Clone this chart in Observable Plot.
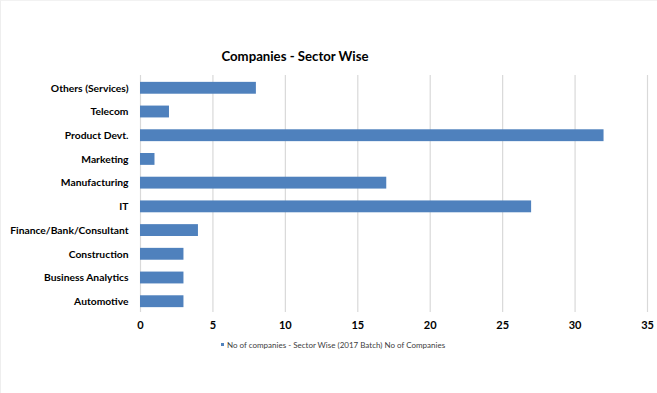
<!DOCTYPE html>
<html>
<head>
<meta charset="utf-8">
<script src="https://cdn.jsdelivr.net/npm/d3@7"></script>
<script src="https://cdn.jsdelivr.net/npm/@observablehq/plot@0.6"></script>
<style>
  html, body { margin: 0; padding: 0; background: #fff; }
  #wrap { position: relative; width: 657px; height: 393px; overflow: hidden; font-family: Lato, "Open Sans", sans-serif; }
  #frame { position: absolute; left: 0; top: 0; width: 657px; height: 393px; border-left: 1px solid #eee; border-top: 1px solid #f2f2f2; box-sizing: border-box; pointer-events: none; }
  #title { position: absolute; left: 0; width: 590px; top: 48px; text-align: center; font-weight: bold; font-size: 13.2px; color: #000; }
  #legend { position: absolute; left: 221px; top: 340px; font-size: 8px; color: #404040; white-space: nowrap; }
  #legend .sw { display: inline-block; width: 3px; height: 3px; background: #4F81BD; margin-right: 3px; vertical-align: middle; position: relative; top: -1px; }
  #chart { position: absolute; left: 0; top: 0; }
</style>
</head>
<body>
<div id="wrap">
  <div id="chart"></div>
  <div id="frame"></div>
  <div id="title">Companies - Sector Wise</div>
  <div id="legend"><span class="sw"></span>No of companies - Sector Wise (2017 Batch) No of Companies</div>
</div>
<script>
const categories = ["Others (Services)", "Telecom", "Product Devt.", "Marketing", "Manufacturing", "IT", "Finance/Bank/Consultant", "Construction", "Business Analytics", "Automotive"];
const companies = [8, 2, 32, 1, 17, 27, 4, 3, 3, 3];
const xTicks = [0, 5, 10, 15, 20, 25, 30, 35];

const data = categories.map((c, i) => ({sector: c, value: companies[i]}));

const chart = Plot.plot({
  width: 657,
  height: 393,
  marginTop: 75,
  marginBottom: 81,
  marginLeft: 140,
  marginRight: 10,
  style: {fontFamily: "Lato, 'Open Sans', sans-serif", background: "transparent"},
  x: {domain: [0, 35], ticks: xTicks, label: null},
  y: {domain: categories, padding: 0.5, range: [70, 319], round: false, label: null},
  marks: [
    Plot.ruleX(xTicks, {stroke: "#d9d9d9", strokeWidth: 1.2}),
    Plot.barX(data, {y: "sector", x: "value", fill: "#4F81BD"}),
    Plot.axisX({ticks: xTicks, tickSize: 0, tickPadding: 9, fontSize: 11, fontWeight: "bold", fill: "#000", label: null}),
    Plot.axisY({tickSize: 0, tickPadding: 12, fontSize: 10.3, fontWeight: "bold", fill: "#000", label: null})
  ]
});
document.getElementById("chart").appendChild(chart);
</script>
</body>
</html>
